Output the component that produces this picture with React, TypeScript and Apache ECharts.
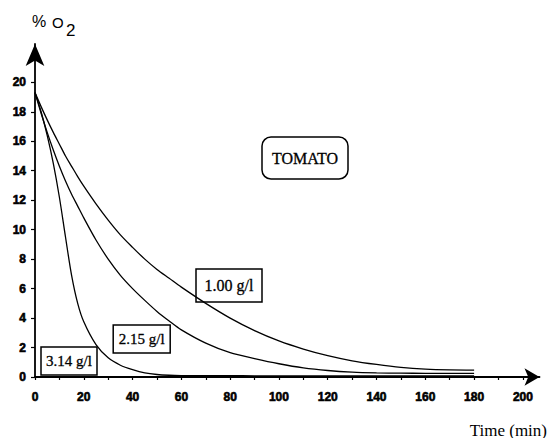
import React, { useEffect, useRef } from "react";
import * as echarts from "echarts";

const time = [0, 2.5, 5, 7.5, 10, 12.5, 15, 17.5, 20, 25, 30, 35, 40, 45, 50, 55, 60, 70, 80, 90, 100, 110, 120, 130, 140, 150, 160, 170, 180];
const o2_100 = [19.3, 18.35, 17.45, 16.6, 15.8, 15.0, 14.3, 13.6, 12.95, 11.75, 10.65, 9.65, 8.8, 8.0, 7.3, 6.7, 6.1, 5.0, 4.0, 3.15, 2.45, 1.9, 1.45, 1.1, 0.85, 0.65, 0.53, 0.48, 0.47];
const o2_215 = [19.3, 17.9, 16.6, 15.4, 14.3, 13.3, 12.4, 11.6, 10.8, 9.3, 8.0, 6.9, 6.0, 5.2, 4.45, 3.8, 3.2, 2.3, 1.65, 1.25, 0.9, 0.62, 0.44, 0.33, 0.28, 0.26, 0.25, 0.25, 0.25];
const o2_314 = [19.3, 18.0, 16.4, 14.5, 12.2, 9.5, 6.9, 5.0, 3.75, 2.2, 1.3, 0.8, 0.5, 0.28, 0.17, 0.12, 0.1, 0.09, 0.09, 0.08, 0.08, 0.08, 0.08, 0.08, 0.08, 0.08, 0.08, 0.08, 0.08];

const xLabels = [0, 20, 40, 60, 80, 100, 120, 140, 160, 180, 200];
const xTicks = [0, 10, 20, 30, 40, 50, 60, 70, 80, 90, 100, 110, 120, 130, 140, 150, 160, 170, 180, 190, 200];
const yLabels = [0, 2, 4, 6, 8, 10, 12, 14, 16, 18, 20];

const seriesNames = ["1.00 g/l", "2.15 g/l", "3.14 g/l"];
const seriesValues = [o2_100, o2_215, o2_314];

export default function App() {
  const ref = useRef<HTMLDivElement>(null);
  useEffect(() => {
    if (!ref.current) return;
    const chart = echarts.init(ref.current, undefined, { renderer: "svg" });
    const labelFont = {
      color: "#000",
      fontFamily: "Arial",
      fontWeight: "bold",
      fontSize: 12,
      textBorderColor: "#000",
      textBorderWidth: 0.6,
    };
    const boxText = (cx: number, cy: number, w: number, h: number, text: string, r = 0, fs = 15) => ({
      type: "group",
      children: [
        {
          type: "rect",
          shape: { x: cx - w / 2, y: cy - h / 2, width: w, height: h, r },
          style: { fill: "#fff", stroke: "#000", lineWidth: 1.5 },
        },
        {
          type: "text",
          x: cx,
          y: cy,
          style: {
            text,
            fill: "#000",
            stroke: "#000",
            lineWidth: 0.3,
            font: `${fs}px "Liberation Serif", "Times New Roman", serif`,
            textAlign: "center",
            textVerticalAlign: "middle",
          },
        },
      ],
    });
    chart.setOption({
      animation: false,
      backgroundColor: "#fff",
      grid: { left: 35, top: 44, width: 504.5, height: 333 },
      xAxis: {
        type: "value",
        min: 0,
        max: 206.8,
        splitLine: { show: false },
        axisLine: {
          show: true,
          symbol: ["none", "arrow"],
          symbolSize: [13, 15],
          lineStyle: { color: "#000", width: 1.8 },
        },
        axisTick: {
          show: true,
          customValues: xTicks,
          length: 3,
          lineStyle: { color: "#000", width: 1.2 },
        },
        axisLabel: { ...labelFont, customValues: xLabels, margin: 14 },
      },
      yAxis: {
        type: "value",
        min: 0,
        max: 22.6,
        splitLine: { show: false },
        axisLine: {
          show: true,
          symbol: ["none", "arrow"],
          symbolSize: [14, 22],
          lineStyle: { color: "#000", width: 1.8 },
        },
        axisTick: {
          show: true,
          customValues: yLabels,
          length: 4,
          lineStyle: { color: "#000", width: 1.2 },
        },
        axisLabel: { ...labelFont, customValues: yLabels, margin: 9 },
      },
      series: seriesValues.map((vals, k) => ({
        name: seriesNames[k],
        type: "line",
        data: time.map((t, i) => [t, vals[i]]),
        showSymbol: false,
        smooth: 0.3,
        silent: true,
        lineStyle: { color: "#000", width: 1.3 },
        z: 2,
      })),
      graphic: [
        {
          type: "text",
          x: 32,
          y: 21,
          style: { text: "%", fill: "#000", font: '16px "Liberation Sans", Arial, sans-serif', textVerticalAlign: "middle" },
        },
        {
          type: "text",
          x: 52,
          y: 22,
          style: { text: "O", fill: "#000", font: '15px "Liberation Sans", Arial, sans-serif', textVerticalAlign: "middle" },
        },
        {
          type: "text",
          x: 66,
          y: 30,
          style: { text: "2", fill: "#000", font: '17px "Liberation Sans", Arial, sans-serif', textVerticalAlign: "middle" },
        },
        {
          type: "text",
          x: 547,
          y: 430,
          style: {
            text: "Time (min)",
            fill: "#000",
            font: '17px "Liberation Serif", "Times New Roman", serif',
            textAlign: "right",
            textVerticalAlign: "middle",
          },
        },
        boxText(305, 158, 86, 42, "TOMATO", 9, 16),
        boxText(229, 285.5, 66, 33, "1.00 g/l", 0, 16),
        boxText(141.7, 339, 57, 28, "2.15 g/l", 0, 15),
        boxText(69, 361, 56, 28, "3.14 g/l", 0, 15),
      ],
    });
    return () => chart.dispose();
  }, []);
  return (
    <div
      ref={ref}
      style={{ position: "fixed", left: 0, top: 0, width: 547, height: 438 }}
    />
  );
}
